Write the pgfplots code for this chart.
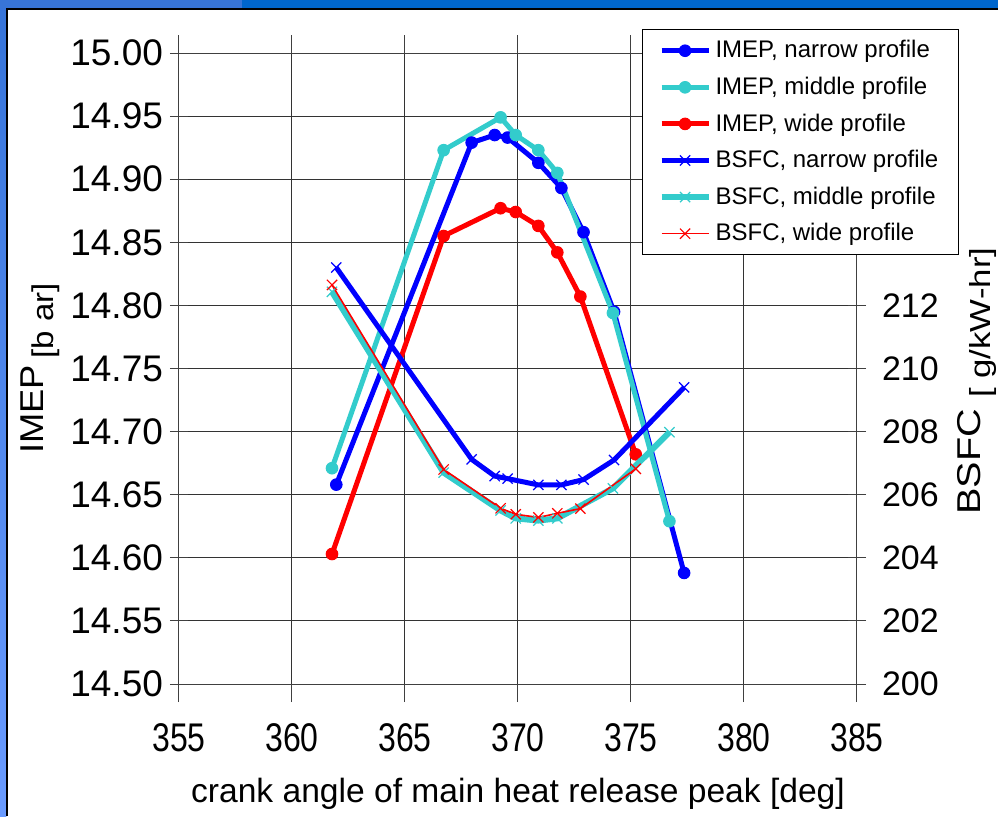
\documentclass[border=0pt]{standalone}
\usepackage{pgfplots}
\pgfplotsset{compat=1.18}
\usepackage{fontspec}
\setmainfont{Liberation Sans}
\definecolor{cBlue}{RGB}{0,0,255}
\definecolor{cCyan}{RGB}{51,204,204}
\definecolor{cRed}{RGB}{255,0,0}
\definecolor{barLight}{RGB}{56,117,215}
\definecolor{barDark}{RGB}{0,102,204}
\definecolor{stripTop}{RGB}{54,116,217}
\definecolor{stripBot}{RGB}{106,155,255}

\pgfplotstableread{
x y
361.96 14.658
367.95 14.929
368.97 14.935
369.54 14.933
370.90 14.913
371.92 14.893
372.90 14.858
374.25 14.795
377.35 14.588
}\imepN
\pgfplotstableread{
x y
361.77 14.671
366.71 14.923
369.23 14.949
369.90 14.935
370.90 14.923
371.74 14.905
374.20 14.794
376.70 14.629
}\imepM
\pgfplotstableread{
x y
361.77 14.603
366.71 14.855
369.23 14.877
369.90 14.874
370.90 14.863
371.74 14.842
372.76 14.807
375.21 14.682
}\imepW
\pgfplotstableread{
x y
361.96 213.20
367.95 207.12
368.97 206.59
369.54 206.51
370.90 206.31
371.92 206.31
372.90 206.48
374.25 207.10
377.35 209.40
}\bsfcN
\pgfplotstableread{
x y
361.77 212.43
366.71 206.70
369.23 205.50
369.90 205.25
370.90 205.18
371.74 205.25
374.20 206.20
376.70 207.98
}\bsfcM
\pgfplotstableread{
x y
361.77 212.65
366.71 206.80
369.23 205.57
369.90 205.38
370.90 205.28
371.74 205.41
372.76 205.56
375.21 206.82
}\bsfcW

\pgfplotsset{
  imepN/.style={color=cBlue, line width=2.5pt, mark=*, mark size=2.9pt, mark options={solid, line width=0.5pt}},
  imepM/.style={color=cCyan, line width=2.5pt, mark=*, mark size=2.9pt, mark options={solid, line width=0.5pt}},
  imepW/.style={color=cRed, line width=2.5pt, mark=*, mark size=2.9pt, mark options={solid, line width=0.5pt}},
  bsfcN/.style={color=cBlue, line width=2.5pt, mark=x, mark size=3.6pt, mark options={solid, line width=0.6pt}},
  bsfcM/.style={color=cCyan, line width=3pt, mark=x, mark size=3.6pt, mark options={solid, line width=0.6pt}},
  bsfcW/.style={color=cRed, line width=0.8pt, mark=x, mark size=3.6pt, mark options={solid, line width=0.6pt}},
  common/.style={
    at={(89.5pt,-342pt)}, anchor=south west,
    scale only axis, width=339pt, height=315.5pt,
    xmin=355, xmax=385,
    /pgf/number format/assume math mode=true,
    tick label style={font=\fontsize{17}{20}\selectfont},
    axis line style={black!75, line width=0.5pt},
    tick style={black!75, line width=0.5pt},
  },
}

\begin{document}
\begin{tikzpicture}
\path[use as bounding box] (0pt,0pt) rectangle (499pt,-408pt);
\clip (0pt,0pt) rectangle (499pt,-408pt);
% slide background frame
\fill[white] (0pt,0pt) rectangle (499pt,-408pt);
\shade[top color=stripTop, bottom color=stripBot] (0pt,0pt) rectangle (3.2pt,-408pt);
\fill[barLight] (0pt,0pt) rectangle (121pt,-4.2pt);
\fill[barDark] (121pt,0pt) rectangle (499pt,-4.2pt);
\draw[black, line width=0.6pt] (3.5pt,-408pt) -- (3.5pt,-4.5pt) -- (499pt,-4.5pt);

\begin{axis}[common,
  ymin=14.5, ymax=15.0,
  xtick={355,360,365,370,375,380,385},
  ytick={14.5,14.55,14.6,14.65,14.7,14.75,14.8,14.85,14.9,14.95,15.0},
  yticklabel style={font=\fontsize{18.5}{20}\selectfont, /pgf/number format/.cd, fixed, fixed zerofill, precision=2},
  xticklabel={\scalebox{1}[1.25]{\pgfmathprintnumber{\tick}}},
  xticklabel style={font=\fontsize{16}{20}\selectfont, yshift=-7pt},
  grid=major, major grid style={black!80, line width=0.5pt},
  xtick align=outside, ytick align=center, major tick length=9pt,
  xlabel={crank angle of main heat release peak [deg]},
  xlabel style={font=\fontsize{16.8}{20}\selectfont, at={(axis description cs:0.5,-0.174)}, anchor=center},
  ylabel={\scalebox{1.1}[1]{IMEP\hspace{3pt}\raisebox{-0.3em}{\fontsize{15}{18}\selectfont[b ar]}}},
  ylabel style={font=\fontsize{16.5}{18}\selectfont, at={(axis description cs:-0.204,0.5)}, anchor=center},
]
\addplot[imepN] table {\imepN};
\addplot[imepM] table {\imepM};
\addplot[imepW] table {\imepW};
\end{axis}

\begin{axis}[common,
  axis x line=none, axis y line*=right,
  ymin=200, ymax=220,
  ytick={200,202,204,206,208,210,212},
  yticklabel style={xshift=4.5pt},
  ytick align=center, major tick length=9pt,
  ylabel={\scalebox{1.2}[1]{BSFC \raisebox{-0.3em}{\fontsize{14.5}{16}\selectfont[ g/kW-hr]}}},
  ylabel style={font=\fontsize{16.5}{18}\selectfont, at={(axis description cs:1.177,0.48)}, anchor=center},
  legend cell align=left,
  legend image code/.code={\draw[mark repeat=2,mark phase=2] plot coordinates {(0pt,0pt)(11.75pt,0pt)(23.5pt,0pt)};},
  legend style={at={(axis description cs:0.683,1.038)}, anchor=north west,
    draw=black, line width=0.5pt, fill=white,
    font=\fontsize{12}{14}\selectfont,
    row sep=4.1pt, inner xsep=8pt, inner ysep=3.5pt},
]
\addlegendimage{imepN}
\addlegendimage{imepM}
\addlegendimage{imepW}
\addplot[bsfcN] table {\bsfcN};
\addplot[bsfcM] table {\bsfcM};
\addplot[bsfcW] table {\bsfcW};
\legend{IMEP{,} narrow profile, IMEP{,} middle profile, IMEP{,} wide profile, BSFC{,} narrow profile, BSFC{,} middle profile, BSFC{,} wide profile}
\end{axis}
\end{tikzpicture}
\end{document}
